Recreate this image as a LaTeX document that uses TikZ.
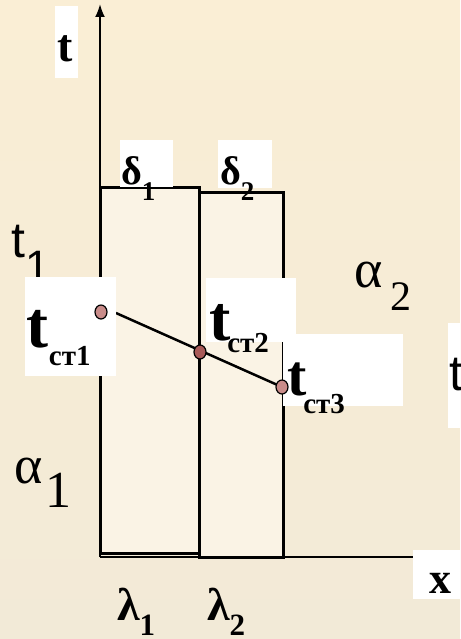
\documentclass[tikz,border=0pt]{standalone}
\usepackage{fontspec}
\setmainfont{Liberation Serif}
\newfontfamily\sansf{Liberation Sans}
\usetikzlibrary{shapes.geometric,arrows.meta}
\definecolor{bgtop}{HTML}{FAEED5}
\definecolor{bgbot}{HTML}{F2EAD7}
\definecolor{slab}{HTML}{FAF3E5}
\definecolor{dotc}{HTML}{C98C8A}
\definecolor{dotd}{HTML}{A85A58}
\newcommand{\myfs}[1]{\fontsize{#1}{#1}\selectfont}
\tikzset{
  txt/.style={inner sep=0pt, outer sep=0pt, anchor=base west},
  slabst/.style={fill=slab, draw=black, line width=3pt},
  wbox/.style={fill=white},
  axisln/.style={draw=black, line width=2pt},
  dot/.style={ellipse, draw=black, line width=1.2pt, minimum width=12pt, minimum height=14pt, inner sep=0pt},
  profile/.style={draw=black, line width=2.5pt},
}
\begin{document}
\begin{tikzpicture}[x=1pt,y=-1pt]
\useasboundingbox (0,0) rectangle (460,639);
\shade[top color=bgtop,bottom color=bgbot] (0,0) rectangle (460,639);
% slabs
\draw[slabst] (199,192) rectangle (283,557);
\draw[slabst] (100,187) rectangle (199,553);
% axes
\coordinate (o) at (100,557);
\coordinate (ytip) at (100,4);
\coordinate (xend) at (413,557);
\draw[axisln, -{Latex[length=13pt,width=10pt]}] (o) -- (ytip);
\draw[draw=black, line width=1.5pt] (o) -- (xend);
% plain labels
\node[txt] (t1) at (12,257) {\sansf\myfs{50}t\raisebox{-24pt}{\myfs{44}1}};
\node[txt] (a1) at (14,483) {\myfs{54}α\hspace{3pt}\raisebox{-24pt}{\myfs{52}1}};
\node[txt] (a2) at (354,287) {\myfs{54}α\hspace{8pt}\raisebox{-23pt}{\myfs{42}2}};
% profile line
\coordinate (ls) at (116,313);
\coordinate (p1) at (101,312);
\coordinate (p2) at (200,352);
\coordinate (p3) at (282,387);
\draw[profile] (ls) -- (p3);
% white label boxes
\fill[wbox] (55,6) rectangle (78,78);
\fill[wbox] (120,140) rectangle (173,186.5);
\fill[wbox] (218,140) rectangle (272,188);
\fill[wbox] (25,277) rectangle (116,376);
\fill[wbox] (283,334) rectangle (403,406);
\fill[wbox] (206,278) rectangle (296,342);
\fill[wbox] (448,323) rectangle (460,428);
\fill[wbox] (413,550) rectangle (460,599);
% bold labels
\node[txt] (tlab) at (57,62) {\bfseries\myfs{46}t};
\node[txt] (d1) at (121,185) {\bfseries\myfs{40}δ\raisebox{-15pt}{\myfs{27}1}};
\node[txt] (d2) at (220,185) {\bfseries\myfs{40}δ\raisebox{-15pt}{\myfs{27}2}};
\node[txt] (ts1) at (27,347) {\bfseries\myfs{66}t\raisebox{-18pt}{\myfs{29}ст1}};
\node[txt] (ts2) at (209,340) {\bfseries\myfs{64}t\hspace{-3pt}\raisebox{-12pt}{\myfs{29}ст2}};
\node[txt] (ts3) at (287,395) {\bfseries\myfs{58}t\hspace{-3pt}\raisebox{-18pt}{\myfs{29}ст3}};
\node[txt] (l1) at (117,620) {\bfseries\myfs{46}λ\raisebox{-15pt}{\myfs{31}1}};
\node[txt] (l2) at (207,620) {\bfseries\myfs{46}λ\raisebox{-15pt}{\myfs{31}2}};
\node[txt] (xlab) at (429,593) {\bfseries\myfs{44}x};
\node[txt] (t2) at (449,390) {\sansf\myfs{50}t};
% dots
\node[dot, fill=dotc] (c1) at (p1) {};
\node[dot, fill=dotd] (c2) at (p2) {};
\node[dot, fill=dotc] (c3) at (p3) {};
\end{tikzpicture}
\end{document}
